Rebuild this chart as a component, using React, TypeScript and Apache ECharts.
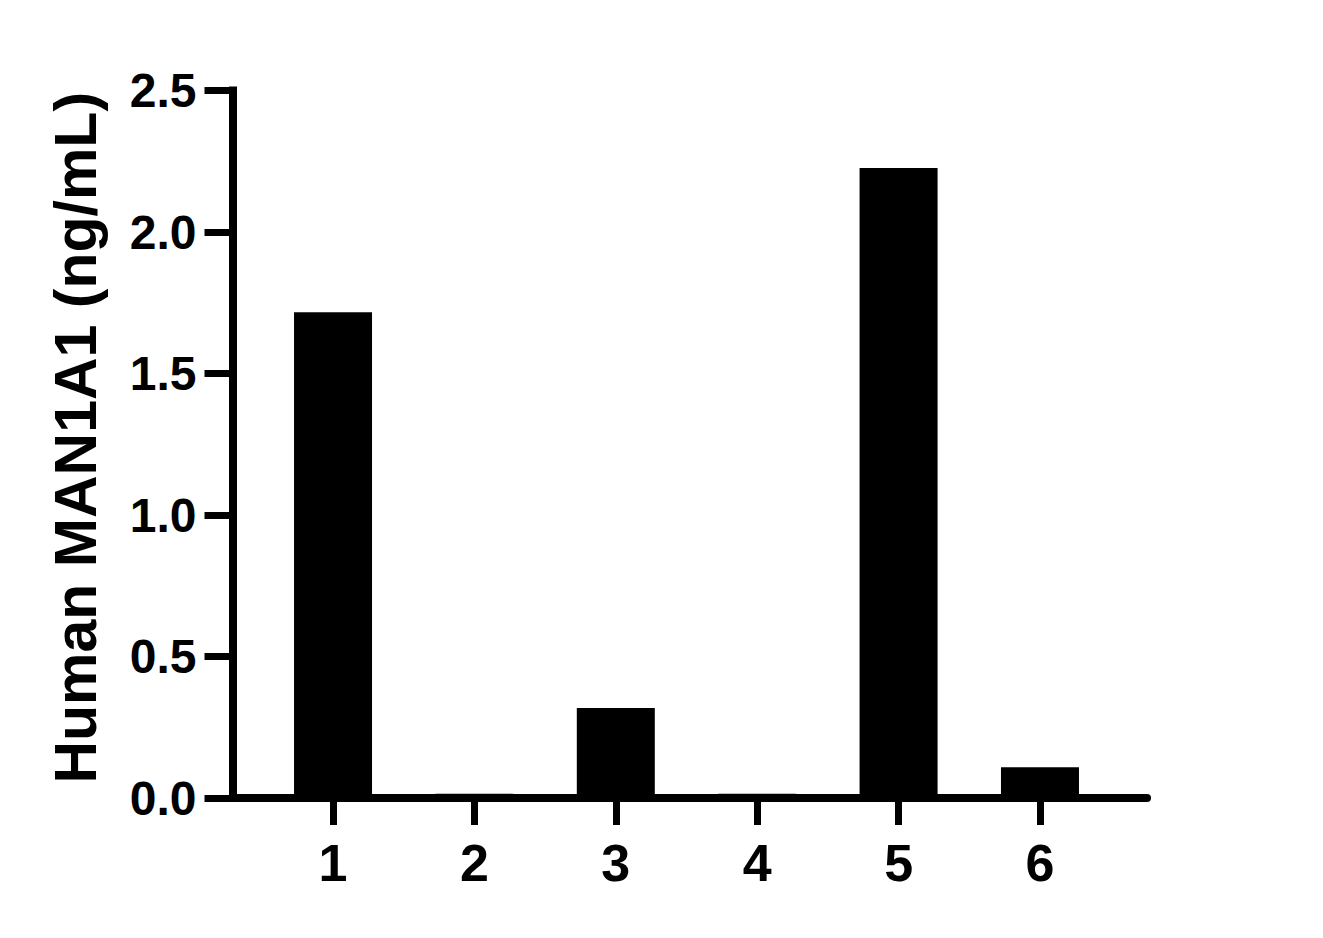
import { useEffect, useRef } from 'react';
import * as echarts from 'echarts';

// sample numbers on the x axis
const samples = [1, 2, 3, 4, 5, 6];
// measured concentration, ng/mL
const values = [1.716, 0.015, 0.318, 0.015, 2.226, 0.109];

const FONT = '"Liberation Sans", Arial, Helvetica, sans-serif';

const App = () => {
  const ref = useRef<HTMLDivElement>(null);

  useEffect(() => {
    if (!ref.current) return;
    const chart = echarts.init(ref.current, undefined, { renderer: 'svg' });

    chart.setOption({
      animation: false,
      backgroundColor: '#ffffff',
      grid: {
        left: 232.5,
        top: 90.5,
        right: 176,
        bottom: 140,
        containLabel: false,
        outerBoundsMode: 'none',
      },
      xAxis: {
        type: 'value',
        min: 0.289,
        max: 6.757,
        splitLine: { show: false },
        axisLine: {
          show: true,
          onZero: false,
          lineStyle: { color: '#000', width: 8 },
        },
        axisTick: {
          show: true,
          customValues: samples,
          length: 27,
          lineStyle: { color: '#000', width: 7 },
        },
        axisLabel: {
          customValues: samples,
          formatter: (v: number) => String(v),
          margin: 39,
          color: '#000',
          fontSize: 52,
          fontWeight: 'bold',
          fontFamily: FONT,
        },
      },
      yAxis: {
        type: 'value',
        min: 0,
        max: 2.5,
        interval: 0.5,
        name: 'Human MAN1A1 (ng/mL)',
        nameLocation: 'middle',
        nameGap: 127,
        nameTextStyle: {
          color: '#000',
          fontSize: 59,
          fontWeight: 'bold',
          fontFamily: FONT,
          padding: [0, 0, 0, 13],
        },
        splitLine: { show: false },
        axisLine: {
          show: true,
          lineStyle: { color: '#000', width: 8, cap: 'square' },
        },
        axisTick: {
          show: true,
          length: 28,
          lineStyle: { color: '#000', width: 7 },
        },
        axisLabel: {
          formatter: (v: number) => v.toFixed(1),
          margin: 36,
          color: '#000',
          fontSize: 48,
          fontWeight: 'bold',
          fontFamily: FONT,
        },
      },
      series: [
        {
          type: 'bar',
          barWidth: 78,
          data: samples.map((s, i) => [s, values[i]]),
          itemStyle: { color: '#000' },
        },
      ],
    });

    return () => {
      chart.dispose();
    };
  }, []);

  return (
    <div
      ref={ref}
      style={{ position: 'fixed', left: 0, top: 0, width: '100vw', height: '100vh' }}
    />
  );
};

export default App;
